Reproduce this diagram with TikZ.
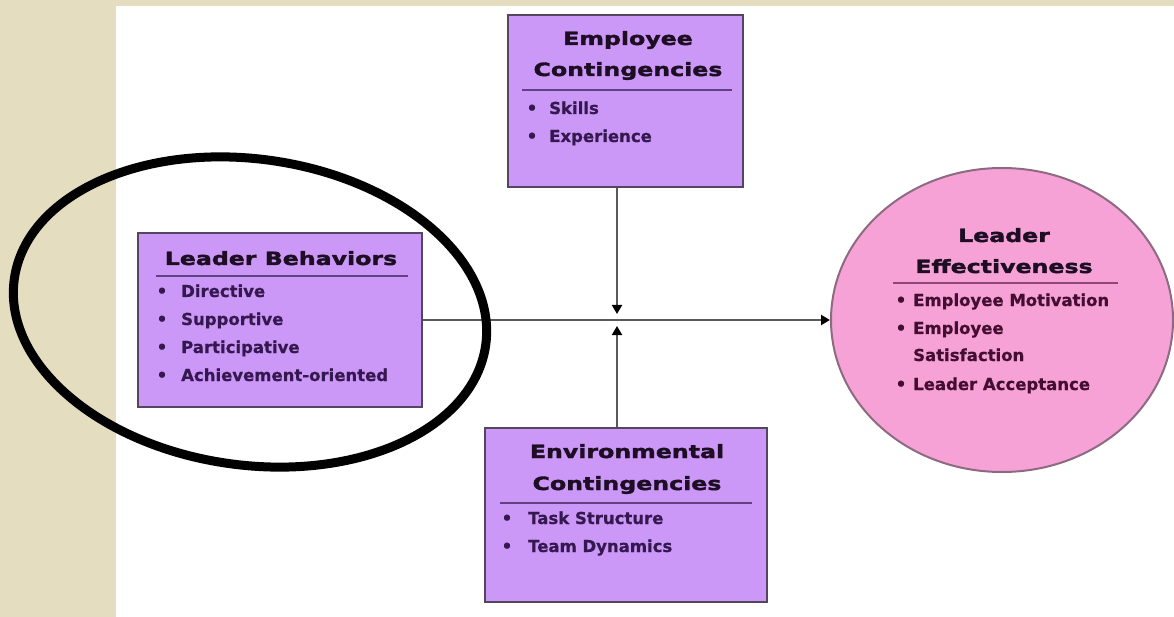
\documentclass[tikz,border=0pt]{standalone}
\usepackage{fontspec}
\setmainfont{DejaVu Sans}
\newfontfamily\hdfont{DejaVu Sans}[FakeStretch=1.3, FakeBold=2]
\newfontfamily\itemfont{DejaVu Sans}[FakeBold=0.6]
\usetikzlibrary{arrows.meta,shapes.geometric}

\definecolor{paper}{HTML}{E4DDC0}
\definecolor{boxfill}{HTML}{CB98F8}
\definecolor{boxline}{HTML}{54465F}
\definecolor{pinkfill}{HTML}{F7A2D6}
\definecolor{pinkline}{HTML}{8C6A80}
\definecolor{headtext}{HTML}{1E0E24}
\definecolor{itemtext}{HTML}{35184F}
\definecolor{pinktext}{HTML}{430E31}
\definecolor{rulepurple}{HTML}{5E4282}
\definecolor{rulepink}{HTML}{8E4676}
\definecolor{wire}{HTML}{595959}

\tikzset{
  box/.style={draw=boxline, line width=2.5pt, fill=boxfill, inner sep=0pt},
  oval/.style={ellipse, draw=pinkline, line width=2pt, fill=pinkfill, inner sep=0pt},
  heading/.style={anchor=base, inner sep=0pt, text=headtext,
    font=\hdfont\bfseries\fontsize{18.2}{20}\selectfont},
  item/.style={anchor=base west, inner sep=0pt, text=itemtext,
    font=\itemfont\bfseries\fontsize{16.5}{18}\selectfont},
  bul/.style={anchor=base, inner sep=0pt, text=itemtext,
    font=\itemfont\bfseries\fontsize{17}{18}\selectfont},
  rulepen/.style={line width=2.5pt, rulepurple},
  conn/.style={line width=2pt, wire},
  tip/.style={-{Triangle[length=9pt,width=10pt,color=black]}},
  marker/.style={line width=9pt, black}
}

\begin{document}
\begin{tikzpicture}[x=1pt, y=-1pt]
  % page and white sheet
  \fill[paper] (0,0) rectangle (1174,617);
  \fill[white] (116,6) rectangle (1174,617);
  \useasboundingbox (0,0) rectangle (1174,617);

  % ---- Employee Contingencies
  \node[box, minimum width=235pt, minimum height=172pt] (emp) at (625.5,101) {};
  \node[heading] (emp-h1) at (628,45) {Employee};
  \node[heading] (emp-h2) at (628,76) {Contingencies};
  \draw[rulepen] (522,90) -- (732,90);
  \foreach \t [count=\i] in {Skills, Experience} {
    \node[bul]  (emp-b\i) at (532,114+28*\i-28) {•};
    \node[item] (emp-t\i) at (549,114+28*\i-28) {\t};
  }

  % ---- Leader Behaviors
  \node[box, minimum width=284pt, minimum height=174pt] (lb) at (280,320) {};
  \node[heading] (lb-h) at (281,265) {Leader Behaviors};
  \draw[rulepen] (156,276) -- (408,276);
  \foreach \t [count=\i] in {Directive, Supportive, Participative, Achievement-oriented} {
    \node[bul]  (lb-b\i) at (162,297+28*\i-28) {•};
    \node[item] (lb-t\i) at (181,297+28*\i-28) {\t};
  }

  % ---- Environmental Contingencies
  \node[box, minimum width=282pt, minimum height=174pt] (env) at (626,515) {};
  \node[heading] (env-h1) at (627,458) {Environmental};
  \node[heading] (env-h2) at (627,490) {Contingencies};
  \draw[rulepen] (500,503) -- (752,503);
  \foreach \t [count=\i] in {Task Structure, Team Dynamics} {
    \node[bul]  (env-b\i) at (507,524+28*\i-28) {•};
    \node[item] (env-t\i) at (528,524+28*\i-28) {\t};
  }

  % ---- Leader Effectiveness
  \node[oval, minimum width=342pt, minimum height=304pt] (le) at (1002,320) {};
  \node[heading] (le-h1) at (1004,242) {Leader};
  \node[heading] (le-h2) at (1004,273) {Effectiveness};
  \draw[rulepen, rulepink] (893,283) -- (1118,283);
  \node[bul, text=pinktext]  (le-b1) at (901,306) {•};
  \node[item, text=pinktext] (le-t1) at (913,306) {Employee Motivation};
  \node[bul, text=pinktext]  (le-b2) at (901,334) {•};
  \node[item, text=pinktext] (le-t2) at (913,334) {Employee};
  \node[item, text=pinktext] (le-t3) at (913,361) {Satisfaction};
  \node[bul, text=pinktext]  (le-b4) at (901,390) {•};
  \node[item, text=pinktext] (le-t4) at (913,390) {Leader Acceptance};

  % ---- connectors
  \coordinate (j) at (617,320);
  \draw[conn, tip] (lb.east) -- (le.west);
  \draw[conn, tip, shorten >=6pt] (emp.south -| j) -- (j);
  \draw[conn, tip, shorten >=6pt] (env.north -| j) -- (j);

  % ---- hand-drawn ring around the leader behaviours
  \draw[marker, rotate around={-8:(250,312)}] (250,312) ellipse [x radius=238, y radius=153];
\end{tikzpicture}
\end{document}
